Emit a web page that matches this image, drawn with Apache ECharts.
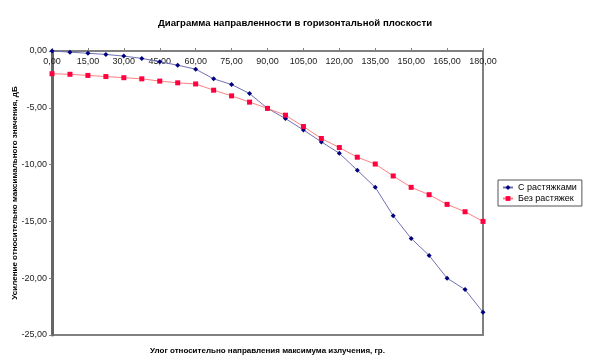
<!DOCTYPE html>
<html><head><meta charset="utf-8">
<script src="https://cdn.jsdelivr.net/npm/echarts@6/dist/echarts.min.js"></script>
<style>html,body{margin:0;padding:0;background:#fff}#c{width:594px;height:362px}</style>
</head><body><div id="c"></div>
<script>
const angles = [0,7.5,15,22.5,30,37.5,45,52.5,60,67.5,75,82.5,90,97.5,105,112.5,120,127.5,135,142.5,150,157.5,165,172.5,180];
const withGuys = [0,-0.1,-0.2,-0.3,-0.45,-0.65,-0.95,-1.25,-1.6,-2.45,-2.95,-3.75,-5.05,-5.95,-6.95,-8.0,-9.0,-10.5,-12.0,-14.5,-16.5,-18.0,-20.0,-21.0,-23.0];
const withoutGuys = [-2.0,-2.05,-2.15,-2.25,-2.35,-2.45,-2.65,-2.8,-2.9,-3.45,-3.95,-4.5,-5.05,-5.65,-6.65,-7.7,-8.5,-9.35,-9.95,-11.0,-12.0,-12.65,-13.5,-14.15,-15.0];
const seriesNames = ['С растяжками','Без растяжек'];
const title = 'Диаграмма направленности в горизонтальной плоскости';
const xName = 'Улог относительно направления максимума излучения, гр.';
const yName = 'Усиление относительно максимального значения, дБ';

const fmt = v => v.toFixed(2).replace('.', ',');
const ff = 'Liberation Sans, Arial, sans-serif';
const chart = echarts.init(document.getElementById('c'));
chart.setOption({
  animation:false,
  backgroundColor:'#fff',
  title:{text:title,left:290,textAlign:'center',top:13,textStyle:{fontFamily:ff,fontSize:9.6,fontWeight:'bold',color:'#000'}},
  grid:{left:52,right:111,top:51,bottom:27,show:true,borderColor:'#808080',borderWidth:2,outerBoundsMode:'none',containLabel:false},
  legend:{orient:'vertical',left:498,top:180,padding:[3,5,3,4],itemGap:2,itemWidth:10,itemHeight:6,
    borderColor:'#555',borderWidth:1,textStyle:{fontFamily:ff,fontSize:9,color:'#000'},
    data:seriesNames},
  xAxis:{type:'value',position:'top',min:0,max:180,interval:15,
    name:xName,nameLocation:'middle',nameGap:-304,nameMoveOverlap:false,
    nameTextStyle:{fontFamily:ff,fontSize:8,fontWeight:'bold',color:'#000'},
    axisLine:{onZero:false,lineStyle:{color:'#808080',width:2}},
    axisTick:{show:true,inside:false,length:3,lineStyle:{color:'#808080'}},
    axisLabel:{inside:true,margin:6,fontFamily:ff,fontSize:9,color:'#222',formatter:fmt},
    splitLine:{show:false}},
  yAxis:{type:'value',min:-25,max:0,interval:5,
    name:yName,nameLocation:'middle',nameGap:33,nameRotate:90,nameMoveOverlap:false,
    nameTextStyle:{fontFamily:ff,fontSize:8,fontWeight:'bold',color:'#000'},
    axisLine:{show:true,lineStyle:{color:'#666',width:3}},
    axisTick:{show:true,length:3,lineStyle:{color:'#808080'}},
    axisLabel:{margin:5,fontFamily:ff,fontSize:9,color:'#222',formatter:fmt},
    splitLine:{show:false}},
  series:[
    {name:seriesNames[0],type:'line',data:angles.map((a,i)=>[a,withGuys[i]]),
     symbol:'diamond',symbolSize:5,lineStyle:{color:'#7070b4',width:1},
     itemStyle:{color:'#000080'},color:'#000080'},
    {name:seriesNames[1],type:'line',data:angles.map((a,i)=>[a,withoutGuys[i]]),
     symbol:'rect',symbolSize:5,lineStyle:{color:'#ff8080',width:1},
     itemStyle:{color:'#ff0040'},color:'#ff0040'}
  ]
});
</script></body></html>
